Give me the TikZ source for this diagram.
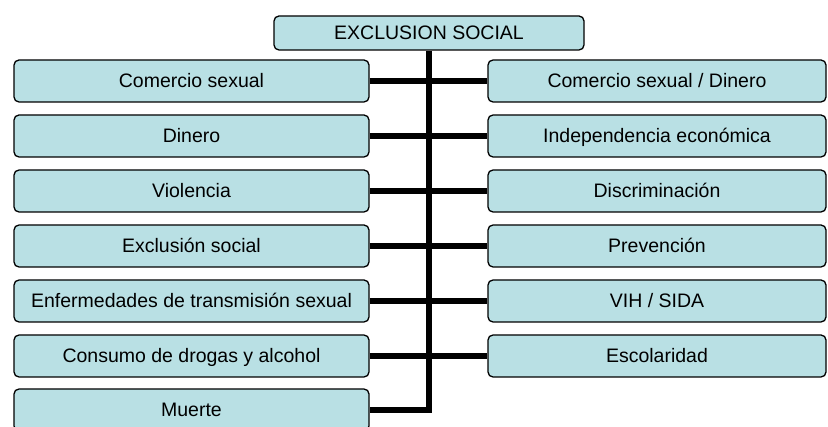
\documentclass[tikz,border=0pt]{standalone}
\usepackage{fontspec}
\setmainfont{Liberation Sans}
\definecolor{boxfill}{RGB}{185,224,228}

\begin{document}
\begin{tikzpicture}[x=1pt,y=-1pt,
    box/.style={draw=black,fill=boxfill,line width=1.3pt,rounded corners=5pt,
        inner sep=0pt,text height=13.5pt,text depth=0pt,
        font=\fontsize{19.5}{22}\selectfont},
    lbox/.style={box,minimum width=355pt,minimum height=42pt},
    rbox/.style={box,minimum width=338pt,minimum height=42pt},
    conn/.style={line width=6pt,line join=miter}]
            \useasboundingbox (0,0) rectangle (828,427);

            \node[box,minimum width=310pt,minimum height=34pt] (top) at (429,33) {EXCLUSION SOCIAL};

            \node[lbox] (l1) at (191.5,81) {Comercio sexual};
            \node[lbox] (l2) at (191.5,136) {Dinero};
            \node[lbox] (l3) at (191.5,191) {Violencia};
            \node[lbox] (l4) at (191.5,246) {Exclusión social};
            \node[lbox] (l5) at (191.5,301) {Enfermedades de transmisión sexual};
            \node[lbox] (l6) at (191.5,356) {Consumo de drogas y alcohol};
            \node[lbox] (l7) at (191.5,410) {Muerte};

            \node[rbox] (r1) at (657,81) {Comercio sexual / Dinero};
            \node[rbox] (r2) at (657,136) {Independencia económica};
            \node[rbox] (r3) at (657,191) {Discriminación};
            \node[rbox] (r4) at (657,246) {Prevención};
            \node[rbox] (r5) at (657,301) {VIH / SIDA};
            \node[rbox] (r6) at (657,356) {Escolaridad};

            \draw[conn] (top.south) |- (l7.east);
            \draw[conn] (l1.east) -- (r1.west);
            \draw[conn] (l2.east) -- (r2.west);
            \draw[conn] (l3.east) -- (r3.west);
            \draw[conn] (l4.east) -- (r4.west);
            \draw[conn] (l5.east) -- (r5.west);
            \draw[conn] (l6.east) -- (r6.west);
        \end{tikzpicture}
\end{document}
